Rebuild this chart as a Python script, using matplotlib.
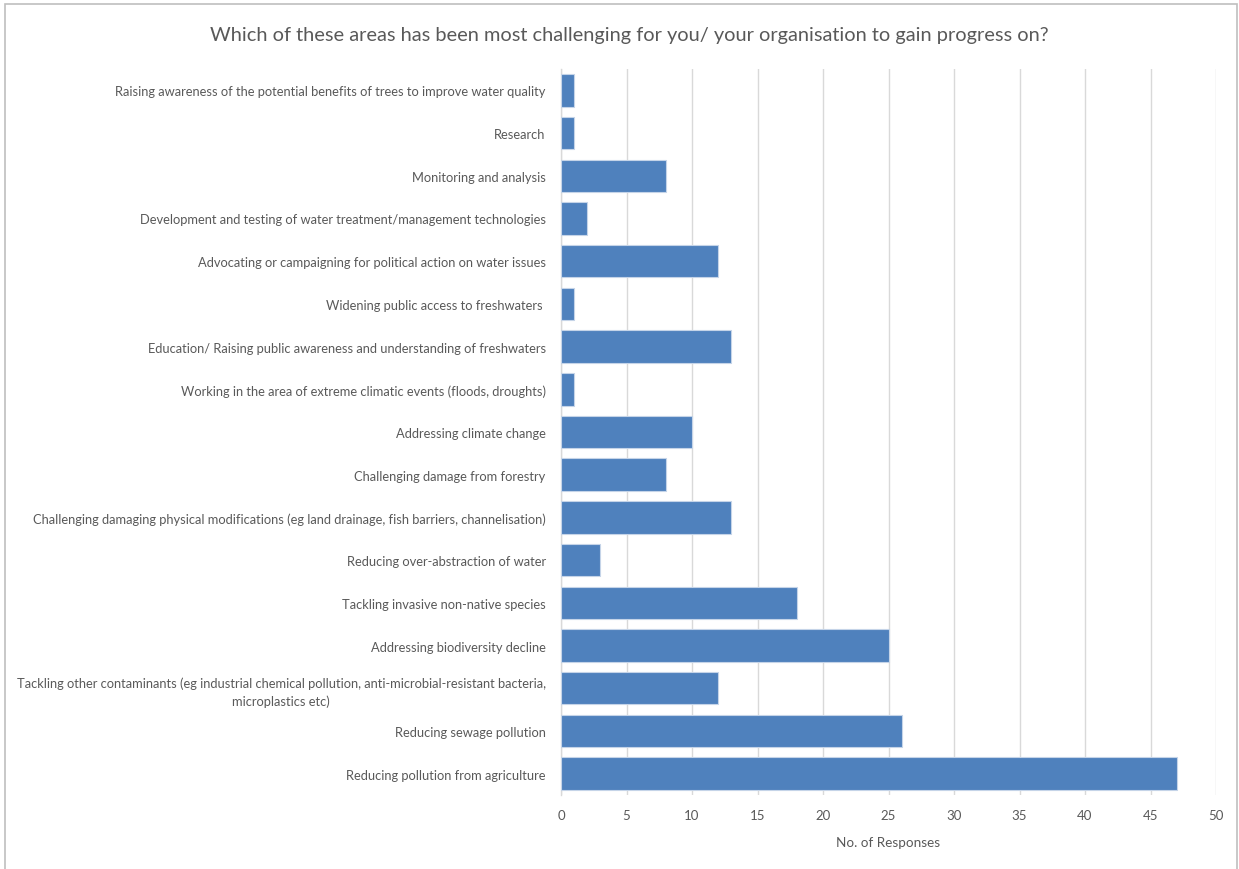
import matplotlib
matplotlib.use("Agg")
import matplotlib.pyplot as plt
from matplotlib.patches import Rectangle

categories = [
    "Raising awareness of the potential benefits of trees to improve water quality",
    "Research",
    "Monitoring and analysis",
    "Development and testing of water treatment/management technologies",
    "Advocating or campaigning for political action on water issues",
    "Widening public access to freshwaters ",
    "Education/ Raising public awareness and understanding of freshwaters",
    "Working in the area of extreme climatic events (floods, droughts)",
    "Addressing climate change",
    "Challenging damage from forestry",
    "Challenging damaging physical modifications (eg land drainage, fish barriers, channelisation)",
    "Reducing over-abstraction of water",
    "Tackling invasive non-native species",
    "Addressing biodiversity decline",
    "Tackling other contaminants (eg industrial chemical pollution, anti-microbial-resistant bacteria,\nmicroplastics etc)",
    "Reducing sewage pollution",
    "Reducing pollution from agriculture",
]
responses = [1, 1, 8, 2, 12, 1, 13, 1, 10, 8, 13, 3, 18, 25, 12, 26, 47]
x_ticks = [0, 5, 10, 15, 20, 25, 30, 35, 40, 45, 50]

title = "Which of these areas has been most challenging for you/ your organisation to gain progress on?"
x_label = "No. of Responses"

W, H = 1239, 870
plt.rcParams["font.family"] = ["Lato", "DejaVu Sans"]
text_color = "#595959"
grid_color = "#D9D9D9"
bar_color = "#4F81BD"

fig = plt.figure(figsize=(W / 100, H / 100), dpi=100)
fig.patch.set_facecolor("white")

# outer chart frame (bottom edge runs off the canvas)
fig.patches.append(Rectangle((5 / W, -0.02), (1237 - 5) / W, 1 - 5 / H + 0.02,
                             transform=fig.transFigure, fill=False,
                             edgecolor="#BFBFBF", linewidth=1.2))

left, right, top, bottom = 561, 1216, 70, 796
ax = fig.add_axes([left / W, 1 - bottom / H, (right - left) / W, (bottom - top) / H])

ypos = list(range(len(categories)))
ax.barh(ypos, responses, height=0.76, color=bar_color,
        edgecolor="#C5D4E8", linewidth=0.8, zorder=3)

ax.set_ylim(len(categories) - 0.5, -0.5)
ax.set_xlim(0, 50)
ax.set_xticks(x_ticks)
ax.set_xticklabels([str(t) for t in x_ticks])
ax.set_yticks(ypos)
ax.set_yticklabels(categories)
for lbl in ax.get_yticklabels():
    lbl.set_multialignment("center")
    lbl.set_linespacing(1.45)

ax.grid(axis="x", color=grid_color, linewidth=1.0, zorder=0)
ax.set_axisbelow(True)
for side in ["top", "right", "bottom"]:
    ax.spines[side].set_visible(False)
ax.spines["left"].set_color(grid_color)
ax.spines["left"].set_linewidth(1.0)

ax.tick_params(axis="y", length=0, pad=11, labelsize=9.25, labelcolor=text_color)
ax.tick_params(axis="x", length=0, pad=10, labelsize=9.5, labelcolor=text_color)

ax.set_xlabel(x_label, fontsize=9.7, color=text_color, labelpad=11)

fig.text(629 / W, 1 - 35 / H, title, ha="center", va="center",
         fontsize=14.4, color=text_color)

fig.savefig("out.png", dpi=100)
